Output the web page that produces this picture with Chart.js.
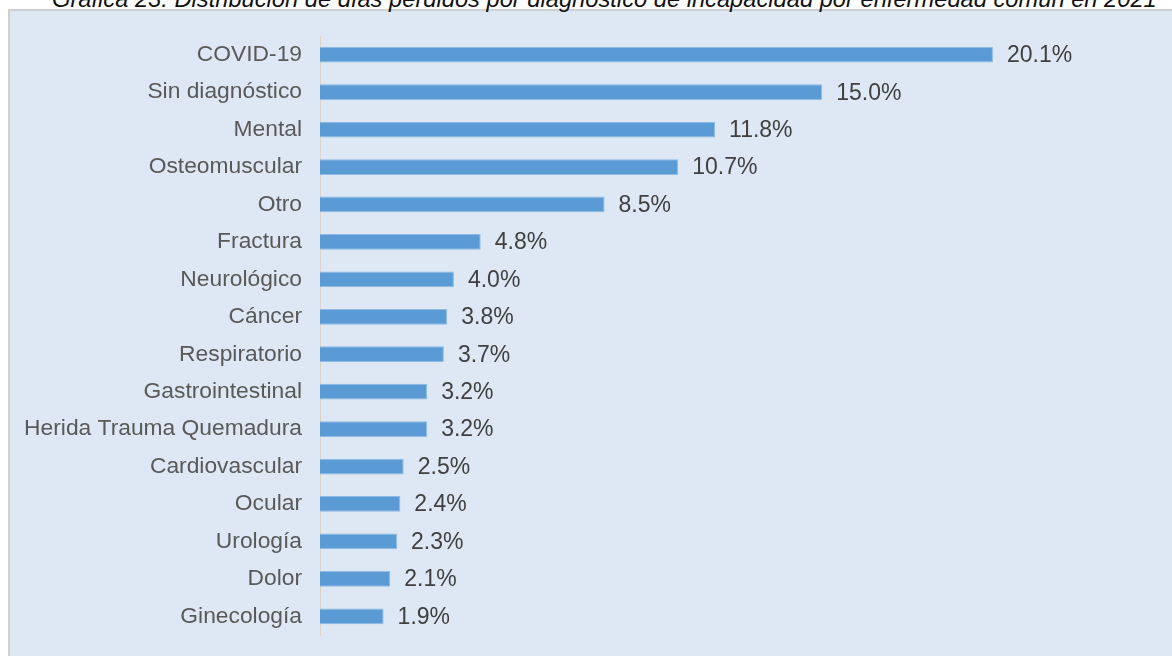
<!DOCTYPE html>
<html>
<head>
<meta charset="utf-8">
<script src="https://cdn.jsdelivr.net/npm/chart.js@4.4.1/dist/chart.umd.min.js"></script>
<style>
    html, body { margin: 0; padding: 0; background: #ffffff; }
    body { width: 1172px; height: 656px; position: relative; overflow: hidden; }
    #panel {
        position: absolute; left: 8px; top: 9px; right: 0; bottom: 0;
        background: #dde8f4;
        border-left: 2px solid #d0d0d0;
        border-top: 2px solid #d0d0d0;
    }
    #title {
        position: absolute; left: 52px; top: -12px;
        font: italic 23.7px "Liberation Sans", Arial, sans-serif;
        line-height: 22px; color: #111111; white-space: nowrap;
    }
    #chart-wrap { position: absolute; left: 0; top: 0; width: 1172px; height: 656px; }
</style>
</head>
<body>
<div id="panel"></div>
<div id="title">Gráfica 23. Distribución de días perdidos por diagnóstico de incapacidad por enfermedad común en 2021</div>
<div id="chart-wrap"><canvas id="diagChart" width="1172" height="656"></canvas></div>
<script>
// ==================== DATA ====================
const categories = [
    'COVID-19', 'Sin diagnóstico', 'Mental', 'Osteomuscular', 'Otro', 'Fractura',
    'Neurológico', 'Cáncer', 'Respiratorio', 'Gastrointestinal', 'Herida Trauma Quemadura',
    'Cardiovascular', 'Ocular', 'Urología', 'Dolor', 'Ginecología'
];
const diasPerdidosPct = [20.1, 15.0, 11.8, 10.7, 8.5, 4.8, 4.0, 3.8, 3.7, 3.2, 3.2, 2.5, 2.4, 2.3, 2.1, 1.9];

// ==================== VALUE LABELS ====================
const valueLabels = {
    id: 'valueLabels',
    afterDatasetsDraw(chart) {
        const ctx = chart.ctx;
        const meta = chart.getDatasetMeta(0);
        ctx.save();
        ctx.font = '23px "Liberation Sans", Arial, sans-serif';
        ctx.fillStyle = '#404040';
        ctx.textAlign = 'left';
        ctx.textBaseline = 'middle';
        meta.data.forEach((bar, i) => {
            ctx.fillText(diasPerdidosPct[i].toFixed(1) + '%', bar.x + 14, bar.y + 1);
        });
        ctx.restore();
    }
};

// ==================== CHART ====================
const ctx = document.getElementById('diagChart').getContext('2d');
const diagChart = new Chart(ctx, {
    type: 'bar',
    data: {
        labels: categories,
        datasets: [{
            data: diasPerdidosPct,
            backgroundColor: '#5b9bd5',
            borderColor: '#8fbbe4',
            borderWidth: 1,
            barPercentage: 0.42,
            categoryPercentage: 1
        }]
    },
    options: {
        indexAxis: 'y',
        responsive: false,
        animation: false,
        devicePixelRatio: 1,
        layout: {
            padding: { left: 0, right: 15, top: 36, bottom: 21 }
        },
        plugins: {
            legend: { display: false },
            tooltip: { enabled: false }
        },
        scales: {
            x: {
                display: false,
                min: 0,
                max: 25
            },
            y: {
                grid: { display: false, drawTicks: false },
                border: { display: true, color: '#d9d4cc', width: 1 },
                afterFit: function(scale) {
                    // fixed label column, no extra label padding above/below
                    scale.width = 320;
                    scale.paddingTop = 0;
                    scale.paddingBottom = 0;
                },
                ticks: {
                    color: '#595959',
                    padding: 18,
                    font: { family: '"Liberation Sans", Arial, sans-serif', size: 22.8 }
                }
            }
        }
    },
    plugins: [valueLabels]
});
</script>
</body>
</html>
